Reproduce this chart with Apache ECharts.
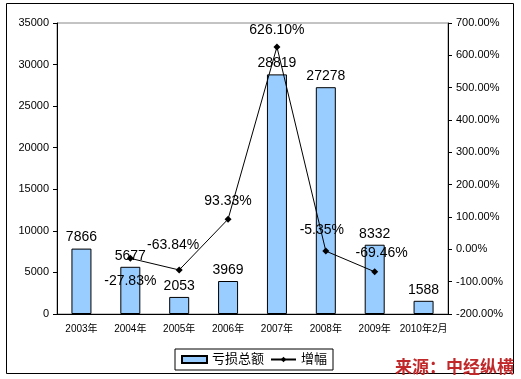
<!DOCTYPE html>
<html><head><meta charset="utf-8">
<script src="https://cdn.jsdelivr.net/npm/echarts@6/dist/echarts.min.js"></script>
<style>html,body{margin:0;padding:0;background:#fff}#c{width:521px;height:379px}</style>
</head><body><div id="c"></div>
<script>
const categories = ['2003年','2004年','2005年','2006年','2007年','2008年','2009年','2010年2月'];
const lossTotal = [7866, 5677, 2053, 3969, 28819, 27278, 8332, 1588];
const growth = [null, -27.83, -63.84, 93.33, 626.10, -5.35, -69.46, null];
const leftTicks = {min: 0, max: 35000, interval: 5000};
const rightTicks = {min: -200, max: 700, interval: 100};
const seriesNames = ['亏损总额', '增幅'];
const sourceText = '来源：中经纵横';

const font = 'Arial, "Liberation Sans", "Noto Sans CJK SC", sans-serif';
const labelPos = {1: ['bottom', [0, 6]], 2: ['top', [-6, -8]], 3: ['top', [0, -2]], 4: ['top', [0, 0]], 5: ['top', [-4, -4]], 6: ['top', [7, -2]]};

const chart = echarts.init(document.getElementById('c'), null, {renderer: 'canvas'});
chart.setOption({
  animation: false,
  backgroundColor: '#fff',
  textStyle: {fontFamily: font},
  grid: {left: 57, right: 73, top: 23, bottom: 65, show: true, borderColor: '#888', borderWidth: 1},
  legend: {
    left: 175, top: 349, width: 153, height: 21,
    padding: [4, 6, 4, 6], itemGap: 6,
    borderColor: '#000', borderWidth: 1,
    itemWidth: 25, itemHeight: 7,
    textStyle: {fontSize: 13, color: '#000', fontFamily: font},
    data: [{name: seriesNames[0], icon: 'rect'}, {name: seriesNames[1]}]
  },
  xAxis: {
    type: 'category', data: categories, boundaryGap: true,
    axisLine: {lineStyle: {color: '#000', width: 1}},
    axisTick: {inside: true, length: 3, lineStyle: {color: '#000'}},
    axisLabel: {fontSize: 10, color: '#000', margin: 10, interval: 0, fontFamily: font}
  },
  yAxis: [{
    type: 'value', min: leftTicks.min, max: leftTicks.max, interval: leftTicks.interval,
    splitLine: {show: false},
    axisLine: {show: true, lineStyle: {color: '#000'}},
    axisTick: {show: true, length: 4, lineStyle: {color: '#000'}},
    axisLabel: {fontSize: 11, color: '#000', margin: 8, fontFamily: font,
      formatter: v => String(v)}
  }, {
    type: 'value', min: rightTicks.min, max: rightTicks.max, interval: rightTicks.interval,
    splitLine: {show: false},
    axisLine: {show: true, lineStyle: {color: '#000'}},
    axisTick: {show: true, length: 4, lineStyle: {color: '#000'}},
    axisLabel: {fontSize: 11, color: '#000', margin: 8, fontFamily: font,
      formatter: v => v.toFixed(2) + '%'}
  }],
  series: [{
    name: seriesNames[0], type: 'bar', data: lossTotal, barWidth: 20, yAxisIndex: 0,
    itemStyle: {color: '#99CCFF', borderColor: '#000', borderWidth: 1},
    label: {show: true, position: 'top', distance: 4, fontSize: 14, color: '#000', fontFamily: font}
  }, {
    name: seriesNames[1], type: 'line', yAxisIndex: 1, z: 5,
    data: growth.map((v, i) => v === null ? null : {
      value: v,
      label: {position: labelPos[i][0], offset: labelPos[i][1]}
    }),
    connectNulls: false,
    symbol: 'diamond', symbolSize: 7,
    lineStyle: {color: '#000', width: 1},
    itemStyle: {color: '#000'},
    label: {show: true, fontSize: 14, color: '#000', fontFamily: font, distance: 6,
      formatter: p => p.value.toFixed(2) + '%'}
  }],
  graphic: [{
    type: 'rect', shape: {x: 6.5, y: 3.5, width: 507, height: 370},
    style: {fill: null, stroke: '#000', lineWidth: 1}, silent: true, z: -1
  }, {
    type: 'text', right: 7, bottom: 4,
    style: {text: sourceText, fill: '#C0282A', font: 'bold 17px "Noto Sans CJK SC", sans-serif'},
    z: 10
  }]
});
</script></body></html>
